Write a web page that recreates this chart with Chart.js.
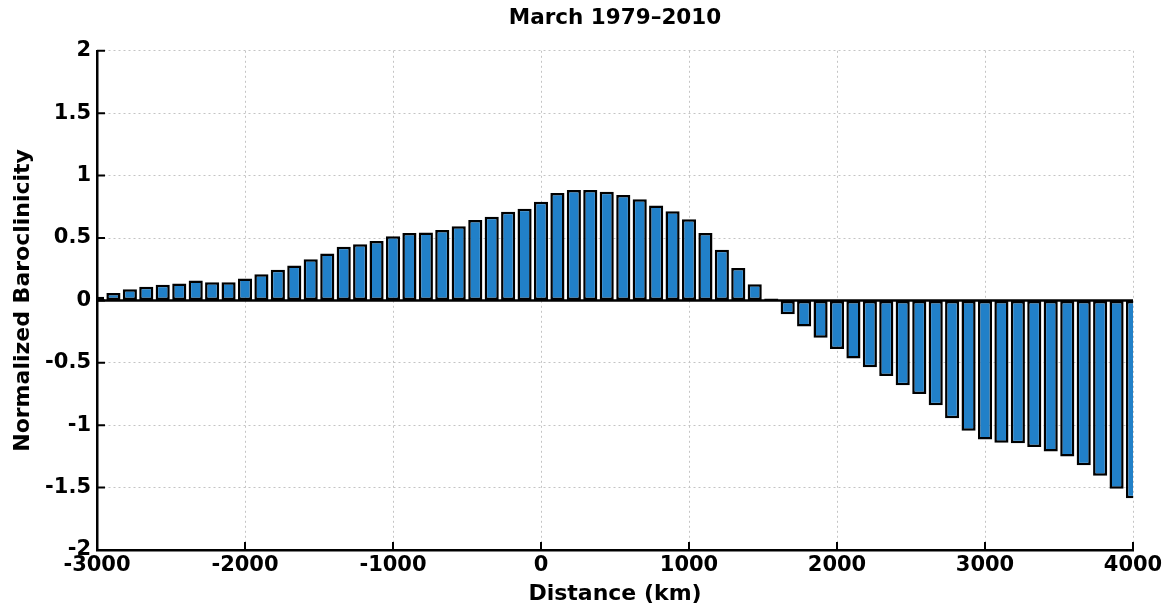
<!DOCTYPE html>
<html>
<head>
<meta charset="UTF-8">
<title>March 1979-2010</title>
<script src="https://cdn.jsdelivr.net/npm/chart.js@4"></script>
<style>
  html, body { margin: 0; padding: 0; background: #fff; }
  #wrap { width: 1169px; height: 611px; }
</style>
</head>
<body>
<div id="wrap"><canvas id="baroChart" width="1169" height="611"></canvas></div>
<script>
// distance along the section (km), one bar per degree of latitude
const distances = [
  -3000, -2889, -2778, -2667, -2556, -2444, -2333, -2222, -2111, -2000,
  -1889, -1778, -1667, -1556, -1444, -1333, -1222, -1111, -1000, -889,
  -778, -667, -556, -444, -333, -222, -111, 0, 111, 222,
  333, 444, 556, 667, 778, 889, 1000, 1111, 1222, 1333,
  1444, 1556, 1667, 1778, 1889, 2000, 2111, 2222, 2333, 2444,
  2556, 2667, 2778, 2889, 3000, 3111, 3222, 3333, 3444, 3556,
  3667, 3778, 3889, 4000
];

// normalized baroclinicity
const baroclinicity = [
  0.03, 0.06, 0.09, 0.11, 0.125, 0.135, 0.16, 0.145, 0.145, 0.175,
  0.21, 0.245, 0.28, 0.33, 0.375, 0.43, 0.45, 0.475, 0.515, 0.54,
  0.545, 0.565, 0.595, 0.645, 0.67, 0.71, 0.735, 0.79, 0.86, 0.885,
  0.885, 0.87, 0.845, 0.81, 0.76, 0.715, 0.65, 0.54, 0.405, 0.26,
  0.13, 0.015, -0.11, -0.21, -0.30, -0.39, -0.465, -0.535, -0.605, -0.68,
  -0.75, -0.84, -0.945, -1.045, -1.115, -1.14, -1.145, -1.175, -1.21, -1.25,
  -1.32, -1.405, -1.51, -1.585
];

const xTicks = [-3000, -2000, -1000, 0, 1000, 2000, 3000, 4000];
const yTicks = [-2, -1.5, -1, -0.5, 0, 0.5, 1, 1.5, 2];

const FONT = 'DejaVu Sans';

// matlab style: zero baseline and tick marks pointing into the box
const matlabAxes = {
    id: 'matlabAxes',
    afterDatasetsDraw(chart) {
        const { ctx, chartArea: a, scales: { x, y } } = chart;
        ctx.save();
        ctx.strokeStyle = '#000';
        ctx.lineWidth = 2.5;
        const y0 = y.getPixelForValue(0);
        ctx.beginPath();
        ctx.moveTo(a.left, y0);
        ctx.lineTo(a.right, y0);
        ctx.stroke();

        ctx.lineWidth = 2;
        ctx.beginPath();
        xTicks.forEach(v => {
            const px = x.getPixelForValue(v);
            ctx.moveTo(px, a.bottom);
            ctx.lineTo(px, a.bottom - 8);
        });
        yTicks.forEach(v => {
            const py = y.getPixelForValue(v);
            ctx.moveTo(a.left, py);
            ctx.lineTo(a.left + 8, py);
        });
        ctx.stroke();
        ctx.restore();
    }
};

new Chart(document.getElementById('baroChart'), {
    type: 'bar',
    data: {
        datasets: [{
            data: distances.map((d, i) => ({ x: d, y: baroclinicity[i] })),
            backgroundColor: '#2180c8',
            borderColor: '#000',
            borderWidth: 2.5,
            borderSkipped: false,
            barPercentage: 0.86,
            categoryPercentage: 1,
            clip: 0
        }]
    },
    options: {
        responsive: false,
        devicePixelRatio: 1,
        animation: false,
        layout: { padding: { left: 0, right: 36, top: 0, bottom: 0 } },
        plugins: {
            legend: { display: false },
            tooltip: { enabled: false },
            title: {
                display: true,
                fullSize: false,
                text: 'March 1979\u20132010',
                color: '#000',
                font: { family: FONT, size: 21.5, weight: 'bold' },
                padding: { top: 6, bottom: 19 }
            }
        },
        scales: {
            x: {
                type: 'linear',
                min: -3000,
                max: 4000,
                offset: false,
                afterFit: s => { s.height = 61; },
                afterBuildTicks: s => { s.ticks = xTicks.map(v => ({ value: v })); },
                ticks: {
                    color: '#000',
                    font: { family: FONT, size: 21, weight: 'bold' },
                    padding: 3,
                    maxRotation: 0,
                    callback: v => String(v)
                },
                grid: { offset: false, drawTicks: false, color: '#c4c4c4', lineWidth: 1 },
                border: { display: true, color: '#000', width: 2.5, dash: [2, 3], z: 1 },
                title: {
                    display: true,
                    text: 'Distance (km)',
                    color: '#000',
                    font: { family: FONT, size: 22, weight: 'bold' },
                    padding: { top: 0, bottom: 4 }
                }
            },
            y: {
                min: -2,
                max: 2,
                afterFit: s => { s.width = 97; },
                afterBuildTicks: s => { s.ticks = yTicks.map(v => ({ value: v })); },
                ticks: {
                    color: '#000',
                    font: { family: FONT, size: 21, weight: 'bold' },
                    padding: 6,
                    callback: v => String(v)
                },
                grid: { drawTicks: false, color: '#c4c4c4', lineWidth: 1 },
                border: { display: true, color: '#000', width: 2.5, dash: [2, 3], z: 1 },
                title: {
                    display: true,
                    text: 'Normalized Baroclinicity',
                    color: '#000',
                    font: { family: FONT, size: 22, weight: 'bold' },
                    padding: { top: 10, bottom: 0 }
                }
            }
        }
    },
    plugins: [matlabAxes]
});
</script>
</body>
</html>
